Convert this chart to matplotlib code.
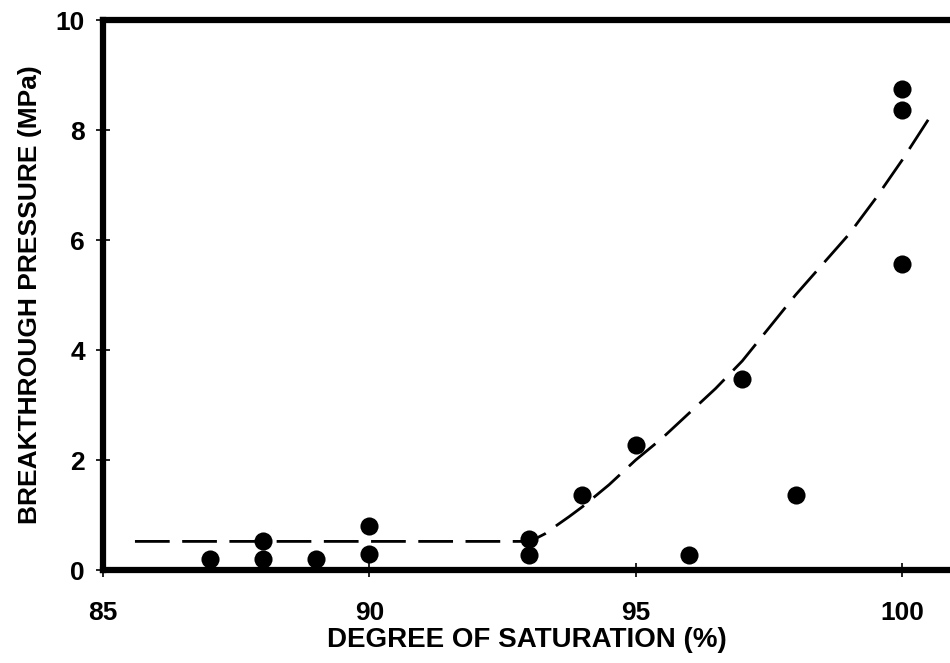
import matplotlib
matplotlib.use("Agg")
import matplotlib.pyplot as plt

# Data points
sat = [87, 88, 88, 89, 90, 90, 93, 93, 94, 95, 96, 97, 98, 100, 100, 100]
pressure = [0.2, 0.52, 0.2, 0.2, 0.8, 0.3, 0.57, 0.28, 1.37, 2.28, 0.27, 3.47, 1.37, 8.75, 8.37, 5.57]

# Dashed trend curve
curve_x = [85.6, 92.9, 93.1, 93.3, 93.5, 93.75, 94.0, 94.5, 95.0, 95.5, 96.0, 96.5, 97.0, 97.5, 98.0, 98.5, 99.0, 99.5, 100.0, 100.3, 100.6]
curve_y = [0.52, 0.52, 0.56, 0.66, 0.8, 0.97, 1.15, 1.55, 2.0, 2.4, 2.85, 3.3, 3.8, 4.4, 5.0, 5.55, 6.1, 6.75, 7.45, 7.9, 8.35]

xticks = [85, 90, 95, 100]
yticks = [0, 2, 4, 6, 8, 10]

plt.rcParams['font.family'] = ['Liberation Sans', 'DejaVu Sans']

fig = plt.figure(figsize=(9.5, 6.63), dpi=100)
ax = fig.add_axes([103/950, 1 - 570/663, 1 - 103/950, 550/663])

ax.plot(curve_x, curve_y, color='black', lw=2.0, dashes=(12.5, 4.5), zorder=2)
ax.scatter(sat, pressure, s=170, color='black', zorder=3, linewidths=0)

ax.set_xlim(85, 100.9)
ax.set_ylim(0, 10)
ax.set_xticks(xticks)
ax.set_yticks(yticks)
ax.set_xticklabels([str(t) for t in xticks], fontsize=19, fontweight='bold')
ax.set_yticklabels([str(t) for t in yticks], fontsize=19, fontweight='bold')
ax.tick_params(direction='inout', length=10, width=1.2, pad=8)
ax.tick_params(axis='x', pad=17)

for side in ['left', 'bottom', 'top']:
    ax.spines[side].set_linewidth(4.5)
ax.spines['right'].set_visible(False)

ax.set_xlabel('DEGREE OF SATURATION (%)', fontsize=20, fontweight='bold', labelpad=2)
ax.set_ylabel('BREAKTHROUGH PRESSURE (MPa)', fontsize=19, fontweight='bold', labelpad=10)

fig.savefig('out.png', dpi=100)
